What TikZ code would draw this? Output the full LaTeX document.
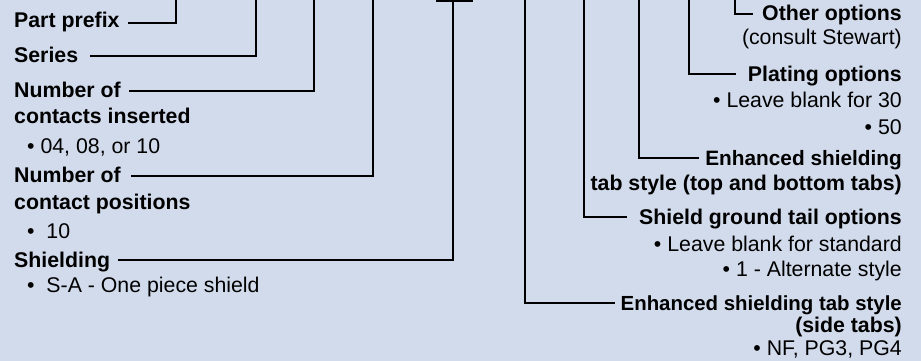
\documentclass[tikz,border=0pt]{standalone}
\usepackage{fontspec}
\setmainfont{Liberation Sans}
\definecolor{bg}{RGB}{210,219,236}
\begin{document}
\begin{tikzpicture}[x=1pt,y=-1pt,
  every node/.style={inner sep=0pt, font=\fontsize{21.3}{25}\selectfont},
  ttl/.style={font=\fontsize{21.3}{25}\selectfont\bfseries},
  lft/.style={anchor=base west},
  rgt/.style={anchor=base east},
  lead/.style={line width=2pt, draw=black}]
\fill[bg] (0,0) rectangle (921,361);
\useasboundingbox (0,0) rectangle (921,361);

% left column
\node[ttl,lft] (pp) at (14,28) {Part prefix};
\node[ttl,lft] (ser) at (14,62.5) {Series};
\node[ttl,lft] (nci1) at (14,97.5) {Number of};
\node[ttl,lft] (nci2) at (14,123) {contacts inserted};
\node[lft] (nci3) at (27,153) {• 04, 08, or 10};
\node[ttl,lft] (ncp1) at (14,182) {Number of};
\node[ttl,lft] (ncp2) at (14,209) {contact positions};
\node[lft] (ncp3) at (27,238.5) {•\ \ 10};
\node[ttl,lft] (sh1) at (14,267) {Shielding};
\node[lft] (sh2) at (27,292.7) {•\ \ S-A - One piece shield};

% right column
\node[ttl,rgt] (oo1) at (902,21) {Other options};
\node[rgt] (oo2) at (902,45) {(consult Stewart)};
\node[ttl,rgt] (po1) at (902,81.5) {Plating options};
\node[rgt] (po2) at (902,107) {• Leave blank for 30};
\node[rgt] (po3) at (902,134) {• 50};
\node[ttl,rgt,font=\fontsize{20.8}{25}\selectfont\bfseries] (es1) at (902,165) {Enhanced shielding};
\node[ttl,rgt] (es2) at (902,190) {tab style (top and bottom tabs)};
\node[ttl,rgt] (sg1) at (902,224) {Shield ground tail options};
\node[rgt] (sg2) at (902,251) {• Leave blank for standard};
\node[rgt] (sg3) at (902,276) {• 1 - Alternate style};
\node[ttl,rgt,font=\fontsize{20.4}{25}\selectfont\bfseries] (et1) at (902,310) {Enhanced shielding tab style};
\node[ttl,rgt] (et2) at (902,332.7) {(side tabs)};
\node[rgt] (et3) at (902,355.7) {• NF, PG3, PG4};

% leader coordinates
\coordinate (ppA) at (128,23);   \coordinate (ppT) at (176,-1);
\coordinate (serA) at (90,56);   \coordinate (serT) at (256,-1);
\coordinate (nciA) at (129,91);  \coordinate (nciT) at (314,-1);
\coordinate (ncpA) at (131,176); \coordinate (ncpT) at (373,-1);
\coordinate (shA) at (118,260);  \coordinate (shT) at (453,0);
\coordinate (barL) at (436,1);   \coordinate (barR) at (473,1);
\coordinate (ooA) at (753,14);   \coordinate (ooT) at (735,-1);
\coordinate (poA) at (736,74);   \coordinate (poT) at (689,-1);
\coordinate (esA) at (699,158);  \coordinate (esT) at (639,-1);
\coordinate (sgA) at (627,217);  \coordinate (sgT) at (584,-1);
\coordinate (etA) at (615,303);  \coordinate (etT) at (525,-1);

\draw[lead] (ppA) -| (ppT);
\draw[lead] (serA) -| (serT);
\draw[lead] (nciA) -| (nciT);
\draw[lead] (ncpA) -| (ncpT);
\draw[lead] (shA) -| (shT);
\draw[lead] (barL) -- (barR);
\draw[lead] (ooA) -| (ooT);
\draw[lead] (poA) -| (poT);
\draw[lead] (esA) -| (esT);
\draw[lead] (sgA) -| (sgT);
\draw[lead] (etA) -| (etT);
\end{tikzpicture}
\end{document}
